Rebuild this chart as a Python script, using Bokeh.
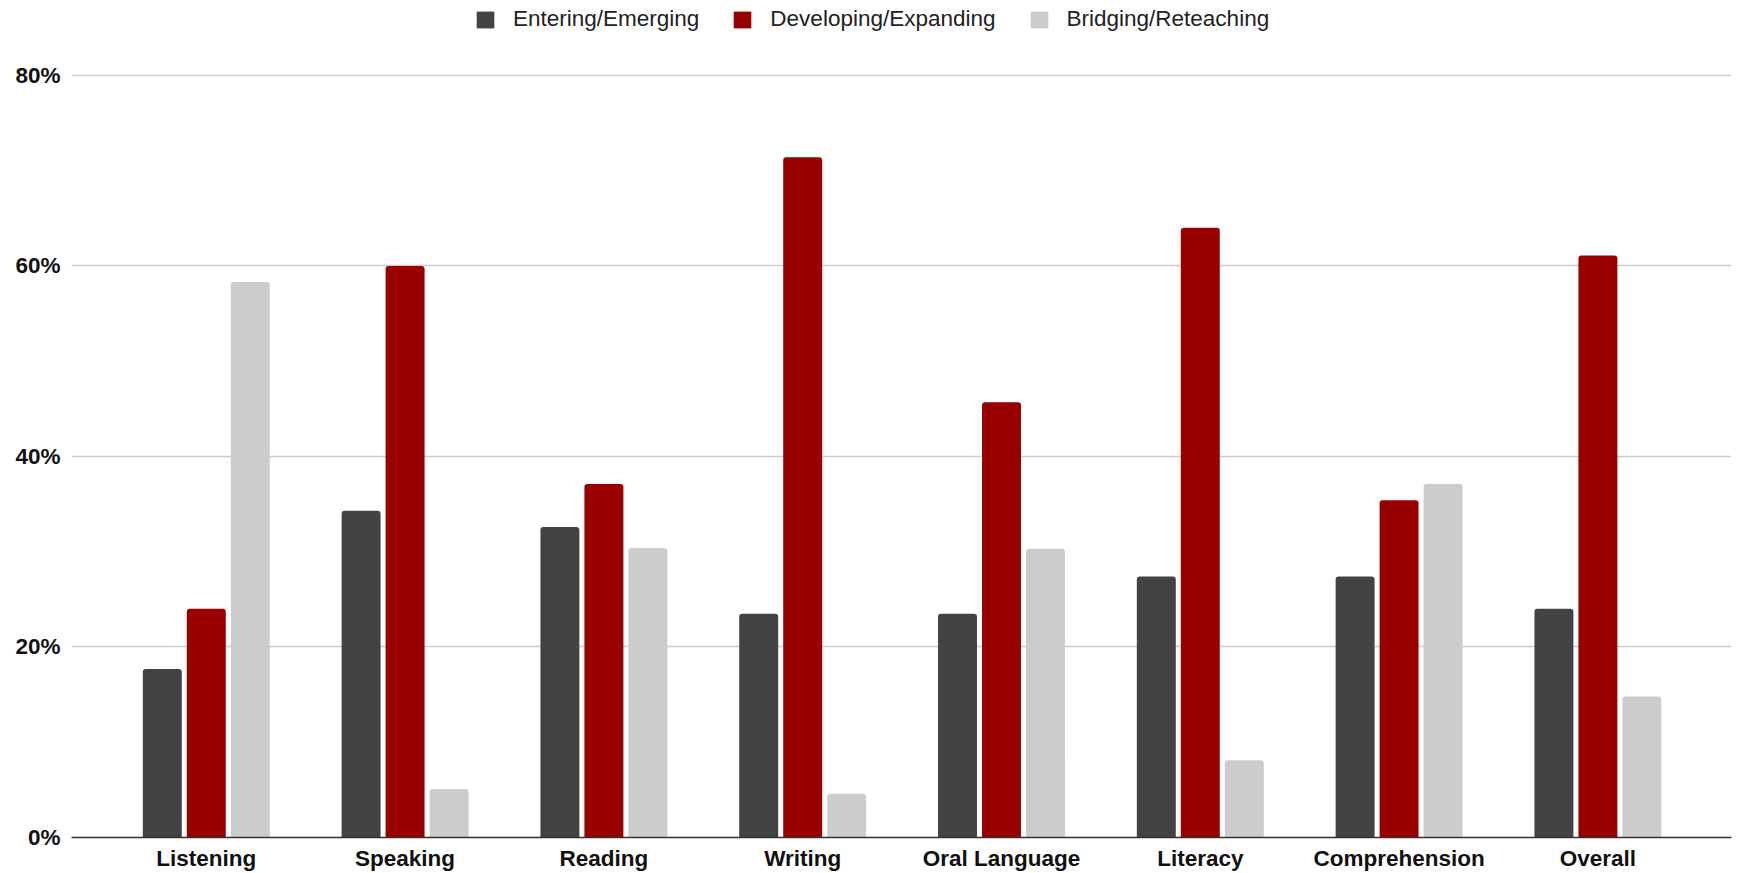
from bokeh.plotting import figure
from bokeh.models import (Range1d, FixedTicker, NumeralTickFormatter, Legend,
                          LegendItem, ColumnDataSource)
from bokeh.embed import file_html
from bokeh.resources import INLINE

categories = ["Listening", "Speaking", "Reading", "Writing", "Oral Language",
              "Literacy", "Comprehension", "Overall"]
series_names = ["Entering/Emerging", "Developing/Expanding", "Bridging/Reteaching"]
entering = [0.177, 0.343, 0.326, 0.235, 0.235, 0.274, 0.274, 0.240]
developing = [0.240, 0.600, 0.371, 0.714, 0.457, 0.640, 0.354, 0.611]
bridging = [0.583, 0.051, 0.304, 0.046, 0.303, 0.081, 0.371, 0.148]
colors = ["#434343", "#990000", "#cccccc"]
y_ticks = [0, 0.2, 0.4, 0.6, 0.8]

FONT = "Liberation Sans"
FS = "22.5px"

p = figure(width=1745, height=873, output_backend="svg", toolbar_location=None,
           x_range=Range1d(-0.678, 7.672), y_range=Range1d(0, 0.8786),
           min_border_left=71, min_border_right=14, min_border_top=0,
           min_border_bottom=35)
p.outline_line_color = None
p.background_fill_color = "white"
p.border_fill_color = "white"

idx = list(range(len(categories)))
offsets = [-0.2213, 0.0, 0.2213]
renderers = []
for vals, off, col in zip([entering, developing, bridging], offsets, colors):
    src = ColumnDataSource(dict(x=[i + off for i in idx], top=vals))
    r = p.vbar(x="x", top="top", width=0.196, bottom=0, source=src,
               fill_color=col, line_color=None, border_radius=(3, 3, 0, 0))
    renderers.append(r)

# grid
p.xgrid.visible = False
p.ygrid.ticker = FixedTicker(ticks=y_ticks)
p.ygrid.grid_line_color = "#cccccc"
p.ygrid.grid_line_width = 1.5

# y axis
p.yaxis.ticker = FixedTicker(ticks=y_ticks)
p.yaxis.formatter = NumeralTickFormatter(format="0%")
p.yaxis.axis_line_color = None
p.yaxis.major_tick_line_color = None
p.yaxis.minor_tick_line_color = None
p.yaxis.major_tick_out = 0
p.yaxis.major_tick_in = 0
p.yaxis.major_label_standoff = 11
p.yaxis.major_label_text_font = FONT
p.yaxis.major_label_text_font_size = FS
p.yaxis.major_label_text_font_style = "bold"
p.yaxis.major_label_text_color = "#111111"

# x axis
p.xaxis.ticker = FixedTicker(ticks=idx)
p.xaxis.major_label_overrides = {i: c for i, c in zip(idx, categories)}
p.xaxis.axis_line_color = "#333333"
p.xaxis.axis_line_width = 1.5
p.xaxis.major_tick_line_color = None
p.xaxis.minor_tick_line_color = None
p.xaxis.major_tick_out = 0
p.xaxis.major_tick_in = 0
p.xaxis.major_label_standoff = 8
p.xaxis.major_label_text_font = FONT
p.xaxis.major_label_text_font_size = FS
p.xaxis.major_label_text_font_style = "bold"
p.xaxis.major_label_text_color = "#111111"

legend = Legend(
    items=[LegendItem(label=n, renderers=[r]) for n, r in zip(series_names, renderers)],
    orientation="horizontal", location=(403, 805), spacing=32, label_standoff=17,
    glyph_width=22, glyph_height=21, padding=0, margin=0,
    border_line_alpha=0, background_fill_alpha=0,
    label_text_font=FONT, label_text_font_size=FS, label_text_color="#222222",
)
p.add_layout(legend)

open("out.html", "w").write(file_html(p, INLINE))
